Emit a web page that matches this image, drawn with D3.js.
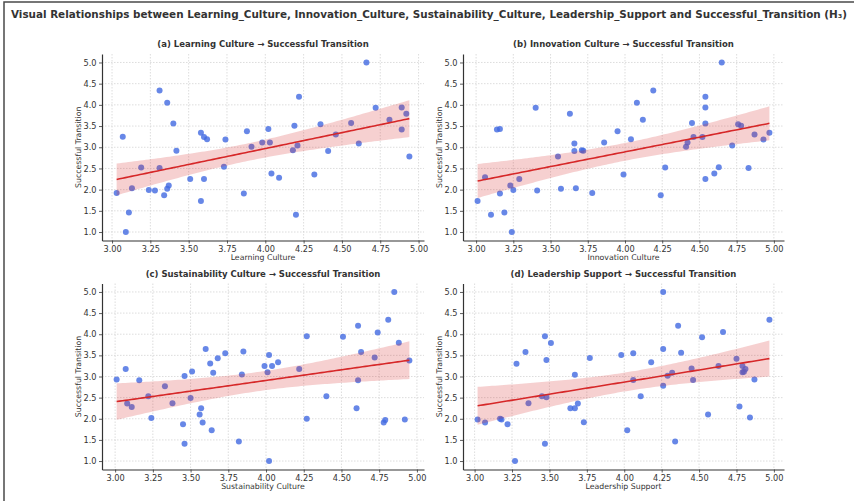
<!DOCTYPE html>
<meta charset="utf-8">
<script src="https://cdn.jsdelivr.net/npm/d3@7"></script>
<style>
  body { margin: 0; background: #fff; }
  text { font-family: "DejaVu Sans", sans-serif; }
</style>
<div id="chart"></div>
<script>
// values
const mainTitle = "Visual Relationships between Learning_Culture, Innovation_Culture, Sustainability_Culture, Leadership_Support and Successful_Transition (H\u2083)";
const panelTitles = ["(a) Learning Culture \u2192 Successful Transition",
                     "(b) Innovation Culture \u2192 Successful Transition",
                     "(c) Sustainability Culture \u2192 Successful Transition",
                     "(d) Leadership Support \u2192 Successful Transition"];
const xLabels = ["Learning Culture", "Innovation Culture", "Sustainability Culture", "Leadership Support"];
const yLabel = "Successful Transition";
const xTicks = [3.00, 3.25, 3.50, 3.75, 4.00, 4.25, 4.50, 4.75, 5.00];
const yTicks = [1.0, 1.5, 2.0, 2.5, 3.0, 3.5, 4.0, 4.5, 5.0];

const learningX = [3.03,3.07,3.09,3.11,3.13,3.19,3.24,3.28,3.31,3.31,3.34,3.36,3.37,3.36,3.40,3.42,3.51,3.58,3.58,3.60,
                   3.60,3.62,3.73,3.74,3.86,3.88,3.91,3.98,4.02,4.03,4.04,4.09,4.18,4.19,4.20,4.21,4.22,4.32,4.36,4.41,
                   4.46,4.56,4.61,4.66,4.72,4.81,4.89,4.89,4.92,4.94];
const learningY = [1.92,3.25,1.00,1.46,2.03,2.52,1.99,1.98,2.51,4.34,1.87,2.02,2.10,4.05,3.56,2.92,2.25,3.34,1.73,2.25,
                   3.24,3.19,2.54,3.18,1.91,3.38,3.01,3.11,3.43,3.11,2.38,2.28,2.93,3.51,1.41,3.04,4.19,2.36,3.54,2.91,
                   3.30,3.57,3.09,5.00,3.93,3.65,3.94,3.42,3.79,2.78];

const innovationX = [3.01,3.06,3.10,3.14,3.16,3.16,3.19,3.23,3.25,3.24,3.29,3.40,3.41,3.55,3.57,3.63,3.66,3.66,3.67,3.71,
                     3.72,3.78,3.86,3.95,3.99,4.04,4.08,4.12,4.19,4.24,4.27,4.41,4.42,4.45,4.46,4.52,4.54,4.54,4.54,4.54,
                     4.60,4.63,4.65,4.72,4.76,4.78,4.83,4.87,4.93,4.97];
const innovationY = [1.73,2.29,1.41,3.42,3.43,1.91,1.46,2.10,1.99,1.00,2.25,3.93,1.98,2.78,2.02,3.79,3.09,2.91,2.03,2.93,
                     2.92,1.92,3.11,3.38,2.36,3.19,4.05,3.65,4.34,1.87,2.52,3.01,3.11,3.57,3.24,3.24,4.19,3.94,3.56,2.25,
                     2.38,2.53,5.00,3.04,3.54,3.51,2.51,3.30,3.18,3.34];

const sustainX = [3.01,3.07,3.08,3.11,3.16,3.22,3.24,3.33,3.38,3.45,3.46,3.46,3.50,3.51,3.56,3.57,3.58,3.60,3.63,3.64,
                  3.65,3.68,3.73,3.82,3.84,3.85,3.99,4.01,4.02,4.02,4.04,4.08,4.22,4.27,4.27,4.40,4.51,4.60,4.61,4.61,
                  4.63,4.72,4.74,4.78,4.79,4.81,4.85,4.88,4.92,4.95];
const sustainY = [2.93,3.18,2.36,2.28,2.91,2.53,2.02,2.77,2.37,1.87,3.01,1.41,2.49,3.12,2.10,2.25,1.91,3.65,3.31,1.73,
                  3.09,3.43,3.55,1.46,3.05,3.59,3.25,3.10,3.51,1.00,3.25,3.34,3.18,2.00,3.95,2.53,3.94,2.25,4.20,2.91,
                  3.58,3.45,4.04,1.91,1.97,4.34,5.00,3.80,1.98,3.38];

const leadershipX = [3.02,3.07,3.17,3.18,3.22,3.27,3.28,3.34,3.36,3.45,3.47,3.47,3.48,3.48,3.51,3.64,3.67,3.67,3.69,3.73,
                     3.77,3.98,4.02,4.06,4.06,4.11,4.18,4.26,4.26,4.26,4.29,4.32,4.34,4.36,4.38,4.45,4.46,4.52,4.56,4.63,
                     4.66,4.75,4.77,4.79,4.79,4.81,4.84,4.87,4.97,4.80];
const leadershipY = [1.98,1.91,2.00,1.98,1.87,1.00,3.30,3.58,2.37,2.53,1.41,3.95,2.51,3.39,3.79,2.25,3.04,2.25,2.36,1.92,
                     3.44,3.51,1.73,3.55,2.92,2.53,3.34,5.00,3.65,2.78,3.02,3.09,1.46,4.20,3.56,3.19,2.92,3.93,2.10,3.25,
                     4.05,3.42,2.29,3.10,3.25,3.18,2.03,2.93,4.34,3.11];

const W = 854, H = 501;
const svg = d3.select("#chart").append("svg")
  .attr("width", W).attr("height", H);

// outer frame (right/bottom edges fall outside the picture)
svg.append("rect")
  .attr("x", 4).attr("y", 2).attr("width", 900).attr("height", 600)
  .attr("fill", "none").attr("stroke", "#4a4a4a").attr("stroke-width", 1.5);

// main title, fitted to the width it has in the reference
let tt = svg.append("text")
  .attr("x", 11).attr("y", 17.5)
  .attr("font-weight", "bold").attr("font-size", 10).attr("fill", "#333")
  .text(mainTitle);
let len = tt.node().getComputedTextLength();
tt.attr("font-size", 10 * 837 / len);

// panel boxes (plot area in pixels)
const boxes = [
  {left: 102, right: 424, top: 54,  bottom: 240.5},
  {left: 463, right: 784, top: 54,  bottom: 240.5},
  {left: 102, right: 424, top: 283.5, bottom: 469.5},
  {left: 463, right: 784, top: 283.5, bottom: 469.5}
];
const series = [[learningX, learningY], [innovationX, innovationY],
                [sustainX, sustainY], [leadershipX, leadershipY]];

series.forEach(function(s, i) {
  let b = boxes[i];
  let xs = s[0], ys = s[1];
  let ext = d3.extent(xs);
  let pad = (ext[1] - ext[0]) * 0.05;

  let x = d3.scaleLinear().domain([ext[0] - pad, ext[1] + pad]).range([b.left, b.right]);
  let y = d3.scaleLinear().domain([0.8, 5.2]).range([b.bottom, b.top]);

  let g = svg.append("g");

  // dotted grid
  g.selectAll(".gx").data(xTicks).enter().append("line")
    .attr("x1", d => x(d)).attr("x2", d => x(d))
    .attr("y1", b.top).attr("y2", b.bottom)
    .attr("stroke", "#d4d4d4").attr("stroke-width", 0.8).attr("stroke-dasharray", "1.5,1.5");
  g.selectAll(".gy").data(yTicks).enter().append("line")
    .attr("x1", b.left).attr("x2", b.right)
    .attr("y1", d => y(d)).attr("y2", d => y(d))
    .attr("stroke", "#d4d4d4").attr("stroke-width", 0.8).attr("stroke-dasharray", "1.5,1.5");

  // scatter
  g.selectAll("circle").data(xs).enter().append("circle")
    .attr("cx", d => x(d)).attr("cy", (d, j) => y(ys[j]))
    .attr("r", 3)
    .attr("fill", "#4169e1").attr("fill-opacity", 0.8);

  // linear fit with 95% confidence band
  let n = xs.length;
  let mx = d3.mean(xs), my = d3.mean(ys);
  let sxx = d3.sum(xs, d => (d - mx) * (d - mx));
  let sxy = d3.sum(xs, (d, j) => (d - mx) * (ys[j] - my));
  let slope = sxy / sxx, icpt = my - slope * mx;
  let sse = d3.sum(xs, (d, j) => Math.pow(ys[j] - (icpt + slope * d), 2));
  let se = Math.sqrt(sse / (n - 2));
  let tval = 2.011;
  let grid = d3.range(0, 101).map(k => ext[0] + (ext[1] - ext[0]) * k / 100);
  let fit = grid.map(function(v) {
    let yh = icpt + slope * v;
    let h = tval * se * Math.sqrt(1 / n + (v - mx) * (v - mx) / sxx);
    return {x: v, y: yh, lo: yh - h, hi: yh + h};
  });

  g.append("path").datum(fit)
    .attr("d", d3.area().x(d => x(d.x)).y0(d => y(d.lo)).y1(d => y(d.hi)))
    .attr("fill", "#d62728").attr("fill-opacity", 0.22);
  g.append("path").datum(fit)
    .attr("d", d3.line().x(d => x(d.x)).y(d => y(d.y)))
    .attr("fill", "none").attr("stroke", "#d62728").attr("stroke-width", 1.6);

  // axes
  let ax = g.append("g")
    .attr("transform", "translate(0," + b.bottom + ")")
    .call(d3.axisBottom(x).tickValues(xTicks).tickFormat(d3.format(".2f")).tickSize(3).tickPadding(2.5).tickSizeOuter(0));
  let ay = g.append("g")
    .attr("transform", "translate(" + b.left + ",0)")
    .call(d3.axisLeft(y).tickValues(yTicks).tickFormat(d3.format(".1f")).tickSize(3).tickPadding(2.5).tickSizeOuter(0));
  [ax, ay].forEach(function(a) {
    a.select(".domain").attr("stroke", "#333").attr("stroke-width", 1.2);
    a.selectAll(".tick line").attr("stroke", "#333").attr("stroke-width", 0.8);
    a.selectAll(".tick text").attr("font-family", "DejaVu Sans").attr("font-size", 8.2).attr("fill", "#333");
  });

  // titles and labels
  let cx = (b.left + b.right) / 2;
  g.append("text")
    .attr("x", cx).attr("y", b.top - 7)
    .attr("text-anchor", "middle").attr("font-weight", "bold")
    .attr("font-size", 8.5).attr("fill", "#333")
    .text(panelTitles[i]);
  g.append("text")
    .attr("x", cx).attr("y", b.bottom + 19)
    .attr("text-anchor", "middle").attr("font-size", 7.8).attr("fill", "#333")
    .text(xLabels[i]);
  g.append("text")
    .attr("transform", "translate(" + (b.left - 21) + "," + ((b.top + b.bottom) / 2) + ") rotate(-90)")
    .attr("text-anchor", "middle").attr("font-size", 7.8).attr("fill", "#333")
    .text(yLabel);
});
</script>
